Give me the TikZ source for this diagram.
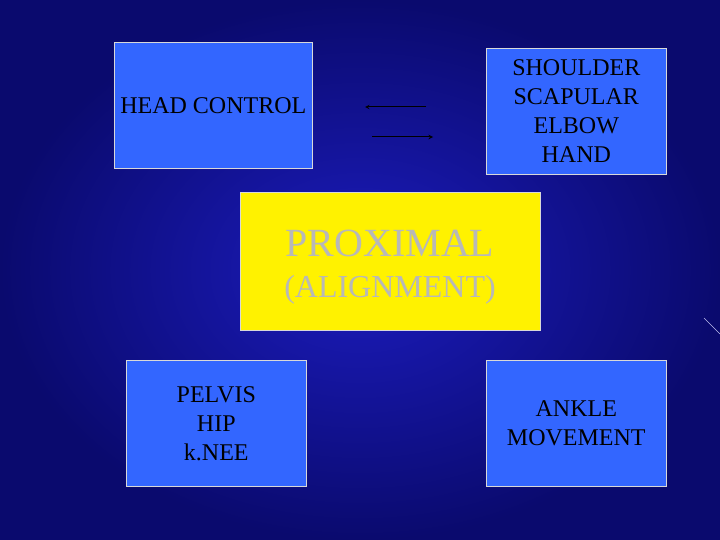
\documentclass[tikz,border=0pt]{standalone}
\usepackage{fontspec}
\setmainfont{Liberation Serif}
\begin{document}
\begin{tikzpicture}[x=1pt,y=-1pt,
  bbox/.style={draw=white!85!black,line width=0.6pt,fill=boxblue,text=black,align=center,font=\fontsize{24}{29}\selectfont,inner sep=0pt},
  conn/.style={draw=black,line width=1pt,-stealth}]
\definecolor{boxblue}{RGB}{51,102,255}
\definecolor{bgblue}{RGB}{28,28,190}
\definecolor{bgdark}{RGB}{10,10,110}
\useasboundingbox (0,0) rectangle (720,540);
\shade[inner color=bgblue,outer color=bgdark] (0,0) rectangle (720,540);
\draw[white!70!bgblue,line width=0.5pt] (704,318) -- (720,334);
\node[bbox,minimum width=198pt,minimum height=126pt,anchor=north west] (head) at (114,42) {HEAD CONTROL};
\node[bbox,minimum width=180pt,minimum height=126pt,anchor=north west] (shoulder) at (486,48) {SHOULDER\\SCAPULAR\\ELBOW\\HAND};
\node[draw=white!85!black,fill=yellow,minimum width=300pt,minimum height=138pt,anchor=north west,inner sep=0pt] (prox) at (240,192) {};
\node[text=white!72!black,align=center,font=\fontsize{40}{45}\selectfont,inner sep=0pt,anchor=base] (proxt) at (390,256) {PROXIMAL};
\node[text=white!72!black,align=center,font=\fontsize{32}{40}\selectfont,inner sep=0pt,anchor=base] (alignt) at (390,297) {(ALIGNMENT)};
\node[bbox,minimum width=180pt,minimum height=126pt,anchor=north west] (pelvis) at (126,360) {PELVIS\\HIP\\k.NEE};
\node[bbox,minimum width=180pt,minimum height=126pt,anchor=north west] (ankle) at (486,360) {ANKLE\\MOVEMENT};
\coordinate (a1) at (426,107); \coordinate (a2) at (365,107);
\coordinate (b1) at (372,137); \coordinate (b2) at (433,137);
\draw[conn] (a1) -- (a2);
\draw[conn] (b1) -- (b2);
\end{tikzpicture}
\end{document}
